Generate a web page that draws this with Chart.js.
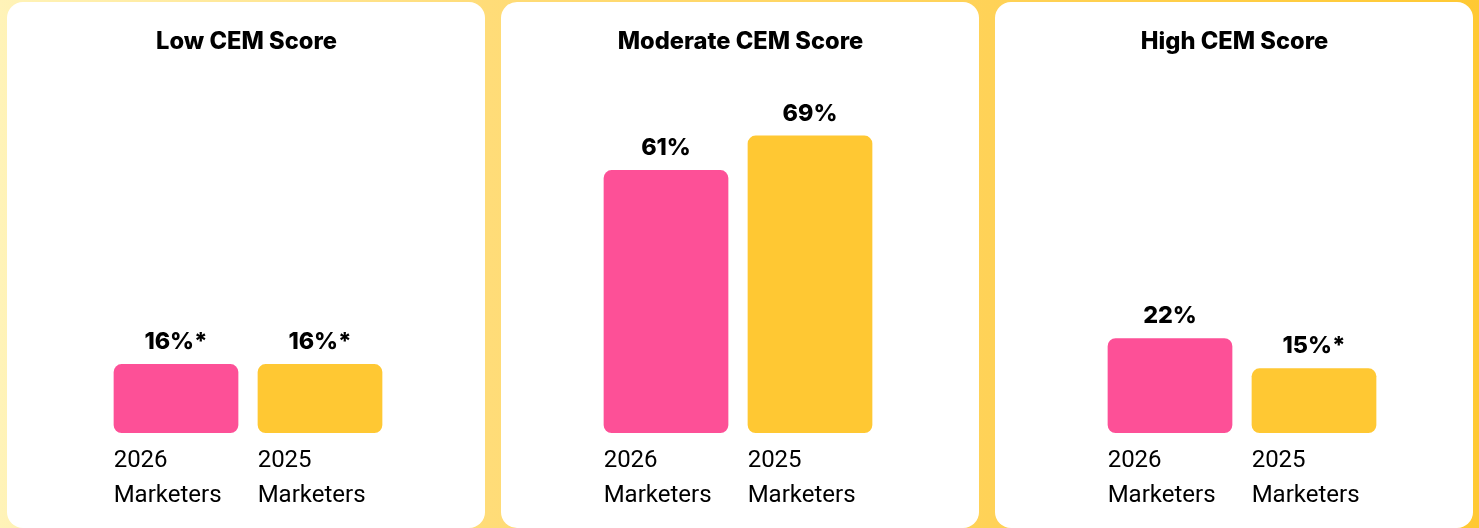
<!DOCTYPE html>
<html>
<head>
<meta charset="utf-8">
<script src="https://cdn.jsdelivr.net/npm/chart.js@4"></script>
<style>
  html, body { margin: 0; padding: 0; }
  body {
    width: 1479px; height: 528px; overflow: hidden; position: relative;
    background: linear-gradient(90deg, #FFF3B8 0%, #FFDC78 33%, #FFD257 67%, #FFC933 100%);
  }
  .card {
    position: absolute; top: 2px; width: 478px; height: 526px;
    background: #fff; border-radius: 16px; overflow: hidden;
  }
  .card canvas { position: absolute; left: 0; top: 0; }
</style>
</head>
<body>
<div class="card" style="left:7px"><canvas id="c0" width="478" height="526"></canvas></div>
<div class="card" style="left:501px"><canvas id="c1" width="478" height="526"></canvas></div>
<div class="card" style="left:995px"><canvas id="c2" width="478" height="526"></canvas></div>
<script>
// ---- Data ----
const panelTitles = ["Low CEM Score", "Moderate CEM Score", "High CEM Score"];
const categories = [["2026", "Marketers"], ["2025", "Marketers"]];
const lowValues = [16, 16];
const moderateValues = [61, 69];
const highValues = [22, 15];
const lowLabels = ["16%*", "16%*"];
const moderateLabels = ["61%", "69%"];
const highLabels = ["22%", "15%*"];
const barColors = ["#FD5097", "#FFC833"];

const panels = [
  { id: "c0", title: panelTitles[0], values: lowValues, labels: lowLabels, padLeft: 97 },
  { id: "c1", title: panelTitles[1], values: moderateValues, labels: moderateLabels, padLeft: 93 },
  { id: "c2", title: panelTitles[2], values: highValues, labels: highLabels, padLeft: 103 }
];

const titleFont = '800 23.7px Inter';
const valueFont = '800 23.3px Inter';

const textPlugin = {
  id: 'panelText',
  afterDatasetsDraw(chart, args, opts) {
    const ctx = chart.ctx;
    const area = chart.chartArea;
    ctx.save();
    ctx.fillStyle = '#000';
    // title
    ctx.font = titleFont;
    ctx.textAlign = 'center';
    ctx.textBaseline = 'alphabetic';
    ctx.fillText(opts.title, chart.width / 2 + 0.5, 47);
    const meta = chart.getDatasetMeta(0);
    meta.data.forEach((bar, i) => {
      // value label
      ctx.font = valueFont;
      ctx.textAlign = 'center';
      ctx.textBaseline = 'alphabetic';
      ctx.fillText(opts.valueLabels[i], bar.x, bar.y - 15);
      // category label (left aligned with bar)
      ctx.font = '24px Roboto';
      ctx.textAlign = 'left';
      const left = bar.x - bar.width / 2;
      const lines = chart.data.labels[i];
      lines.forEach((ln, j) => {
        ctx.fillText(ln, left, area.bottom + 34 + j * 35);
      });
    });
    ctx.restore();
  }
};

panels.forEach(p => {
  new Chart(document.getElementById(p.id), {
    type: 'bar',
    data: {
      labels: categories,
      datasets: [{
        data: p.values,
        backgroundColor: barColors,
        borderRadius: 8,
        borderSkipped: false,
        barPercentage: 0.866,
        categoryPercentage: 1
      }]
    },
    options: {
      responsive: false,
      animation: false,
      layout: { padding: { left: p.padLeft, right: 478 - p.padLeft - 288, top: 0, bottom: 95 } },
      scales: {
        x: { display: false },
        y: { display: false, min: 0, max: 100 }
      },
      plugins: {
        legend: { display: false },
        tooltip: { enabled: false },
        panelText: { title: p.title, valueLabels: p.labels }
      }
    },
    plugins: [textPlugin]
  });
});
</script>
</body>
</html>
